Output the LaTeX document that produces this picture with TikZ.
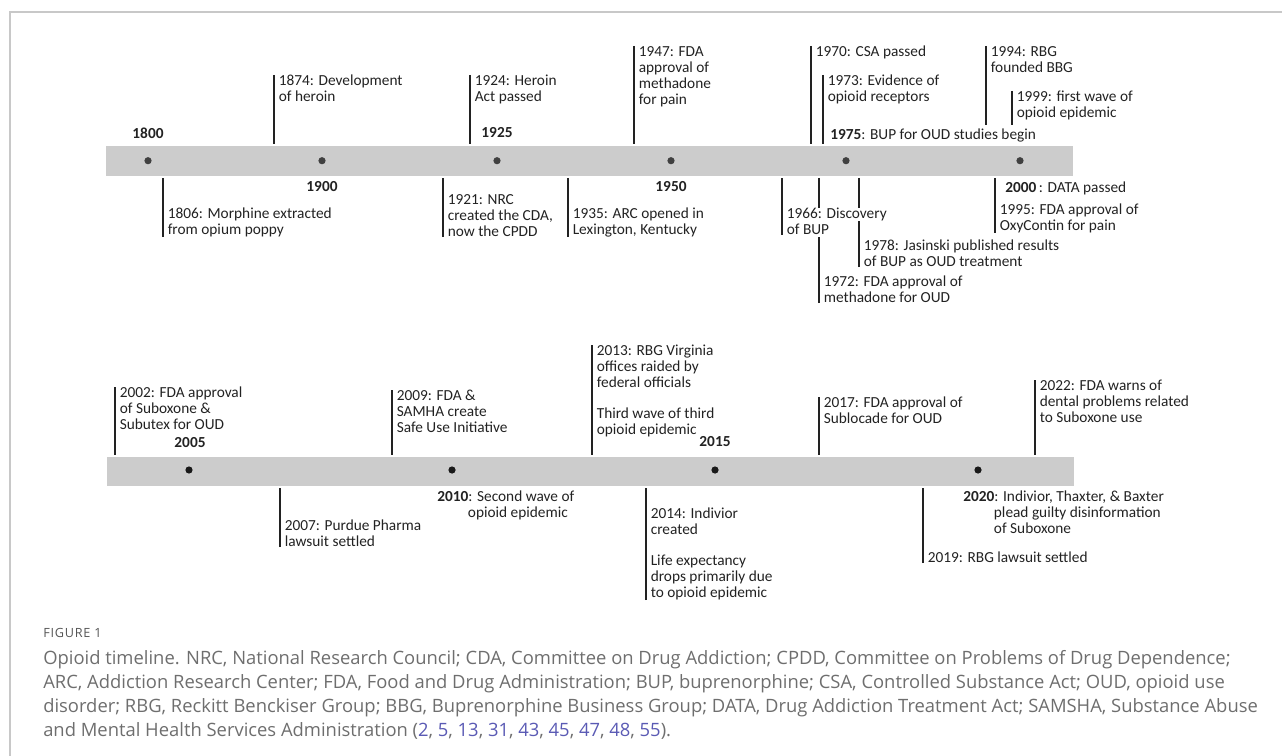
\documentclass[tikz,border=0pt]{standalone}
\usepackage{fontspec}
\setmainfont{Carlito}
\newfontfamily\captionfont{Open Sans}
\usepackage{xcolor}
\usepackage{tikz}

\definecolor{barfill}{HTML}{CCCCCC}
\definecolor{framegray}{HTML}{C8C8C8}
\definecolor{ink}{HTML}{222222}
\definecolor{dotgray}{HTML}{404040}
\definecolor{capgray}{HTML}{6E6E6E}
\definecolor{figgray}{HTML}{555555}
\definecolor{reflink}{HTML}{5A5AB4}

\newcommand\evfont{\fontsize{11.5}{12}\selectfont}
\newcommand\refnum[1]{\textcolor{reflink}{#1}}

\begin{document}
\begin{tikzpicture}[x=0.75pt, y=-0.75pt,
  every node/.style={font=\evfont, text=ink, inner sep=0pt},
  timebar/.style={fill=barfill, draw=none},
  yeardot/.style={circle, fill=dotgray, minimum size=5.4pt},
  year/.style={font=\evfont\bfseries},
  upevent/.style={anchor=north west, align=left, inner xsep=3.4pt},
  downevent/.style={anchor=south west, align=left, inner xsep=3.4pt},
  tickline/.style={draw=ink, line width=0.8pt, shorten >=1.5pt},
  captext/.style={align=left, font=\captionfont\fontsize{13.8}{18}\selectfont, text=capgray}]

  \useasboundingbox (0,0) rectangle (1282,756);
  \draw[framegray, line width=1.2pt] (10,756) -- (10,12) -- (1282,12);

  \node[timebar, minimum width=724.9pt, minimum height=22.3pt] (bar1) at (589.25,160.85) {};
  \node[timebar, minimum width=725.25pt, minimum height=21.75pt] (bar2) at (590.5,471.5) {};

  \foreach \yr/\x in {1800/148, 1900/322, 1925/497, 1950/671, 1975/846, 2000/1020}
    \node[yeardot] (d\yr) at (\x,160.7) {};
  \foreach \yr/\x in {2005/189, 2010/452, 2015/715, 2020/978}
    \node[yeardot, fill=black!90] (d\yr) at (\x,470) {};

  \node[year] (y1800) at (148,133) {1800};
  \node[year] (y1925) at (497,133) {1925};
  \node[year] (y1900) at (322,187) {1900};
  \node[year] (y1950) at (671,187) {1950};
  \node[anchor=base west] (y1975) at (830,140) {\textbf{1975}: BUP for OUD studies begin};
  \node[anchor=base west] (y2000) at (1005,193) {\textbf{2000}\,: DATA passed};

  \node[upevent] (e1874) at (274,75) {1874: Development\\of heroin};
  \node[upevent] (e1924) at (470,75) {1924: Heroin\\Act passed};
  \node[upevent] (e1947) at (634,46) {1947: FDA\\approval of\\methadone\\for pain};
  \node[upevent] (e1970) at (811,46) {1970: CSA passed};
  \node[upevent] (e1973) at (823,75) {1973: Evidence of\\opioid receptors};
  \node[upevent] (e1994) at (986,46) {1994: RBG\\founded BBG};
  \node[upevent] (e1999) at (1012,91) {1999: first wave of\\opioid epidemic};

  \node[downevent] (e1806) at (163,237) {1806: Morphine extracted\\from opium poppy};
  \node[downevent] (e1921) at (443,237) {1921: NRC\\created the CDA,\\now the CPDD};
  \node[downevent] (e1935) at (568,237) {1935: ARC opened in\\Lexington, Kentucky};
  \node[downevent] (e1966) at (782,235) {1966: Discovery\\of BUP};
  \node[downevent] (e1972) at (819,303) {1972: FDA approval of\\methadone for OUD};
  \node[downevent] (e1978) at (859,267) {1978: Jasinski published results\\of BUP as OUD treatment};
  \node[downevent] (e1995) at (995,233) {1995: FDA approval of\\OxyContin for pain};

  \foreach \e in {e1874, e1924, e1947, e1970, e1973}
    \draw[tickline] (\e.north west) -- (\e.north west |- bar1.north);
  \foreach \e in {e1994, e1999}
    \draw[tickline, shorten >=3pt] (\e.north west) -- (\e.north west |- y1975.north);
  \foreach \e in {e1806, e1921, e1935, e1966, e1995}
    \draw[tickline] (\e.south west) -- (\e.south west |- bar1.south);
  \draw[tickline] (e1972.south west) -- (e1972.south west |- e1966.south);
  \draw[tickline, shorten >=0pt, shorten <=1.5pt] (e1972.south west |- bar1.south) -- (e1972.south west |- e1966.north);
  \draw[tickline, shorten >=0pt] (e1978.south west) -- ([yshift=14pt]e1978.north west);
  \draw[tickline, shorten >=0pt, shorten <=1.5pt] (e1978.south west |- bar1.south) -- (e1978.south west |- e1966.north);

  \node[year] (y2005) at (190,443) {2005};
  \node[year] (y2015) at (715,442) {2015};
  \node[anchor=north west, align=left] (l2010) at (437,491) {\textbf{2010}: Second wave of\\\hspace*{23pt}opioid epidemic};
  \node[anchor=north west, align=left] (l2020) at (963,491) {\textbf{2020}: Indivior, Thaxter, \& Baxter\\\hspace*{23pt}plead guilty disinformation\\\hspace*{23pt}of Suboxone};

  \node[upevent] (e2002) at (115,387) {2002: FDA approval\\of Suboxone \&\\Subutex for OUD};
  \node[upevent] (e2009) at (392,390) {2009: FDA \&\\SAMHA create\\Safe Use Initiative};
  \node[upevent] (e2013) at (592,345) {2013: RBG Virginia\\offices raided by\\federal officials\\[11pt]Third wave of third\\opioid epidemic};
  \node[upevent] (e2017) at (819,397) {2017: FDA approval of\\Sublocade for OUD};
  \node[upevent] (e2022) at (1035,380) {2022: FDA warns of\\dental problems related\\to Suboxone use};

  \node[downevent] (e2007) at (280,547) {2007: Purdue Pharma\\lawsuit settled};
  \node[downevent] (e2014) at (646,600) {2014: Indivior\\created\\[11pt]Life expectancy\\drops primarily due\\to opioid epidemic};
  \node[downevent] (e2019) at (923,563) {2019: RBG lawsuit settled};

  \foreach \e in {e2002, e2009, e2013, e2017, e2022}
    \draw[tickline] (\e.north west) -- (\e.north west |- bar2.north);
  \foreach \e in {e2007, e2014, e2019}
    \draw[tickline] (\e.south west) -- (\e.south west |- bar2.south);

  \node[anchor=west, font=\captionfont\fontsize{9.5}{10}\selectfont\addfontfeature{LetterSpace=6}, text=figgray] (figlabel) at (43,633) {FIGURE 1};
  \node[captext, anchor=north west] (caption) at (43,650) {Opioid timeline. NRC, National Research Council; CDA, Committee on Drug Addiction; CPDD, Committee on Problems of Drug Dependence;\\ARC, Addiction Research Center; FDA, Food and Drug Administration; BUP, buprenorphine; CSA, Controlled Substance Act; OUD, opioid use\\disorder; RBG, Reckitt Benckiser Group; BBG, Buprenorphine Business Group; DATA, Drug Addiction Treatment Act; SAMSHA, Substance Abuse\\and Mental Health Services Administration (\refnum{2}, \refnum{5}, \refnum{13}, \refnum{31}, \refnum{43}, \refnum{45}, \refnum{47}, \refnum{48}, \refnum{55}).};
\end{tikzpicture}
\end{document}
